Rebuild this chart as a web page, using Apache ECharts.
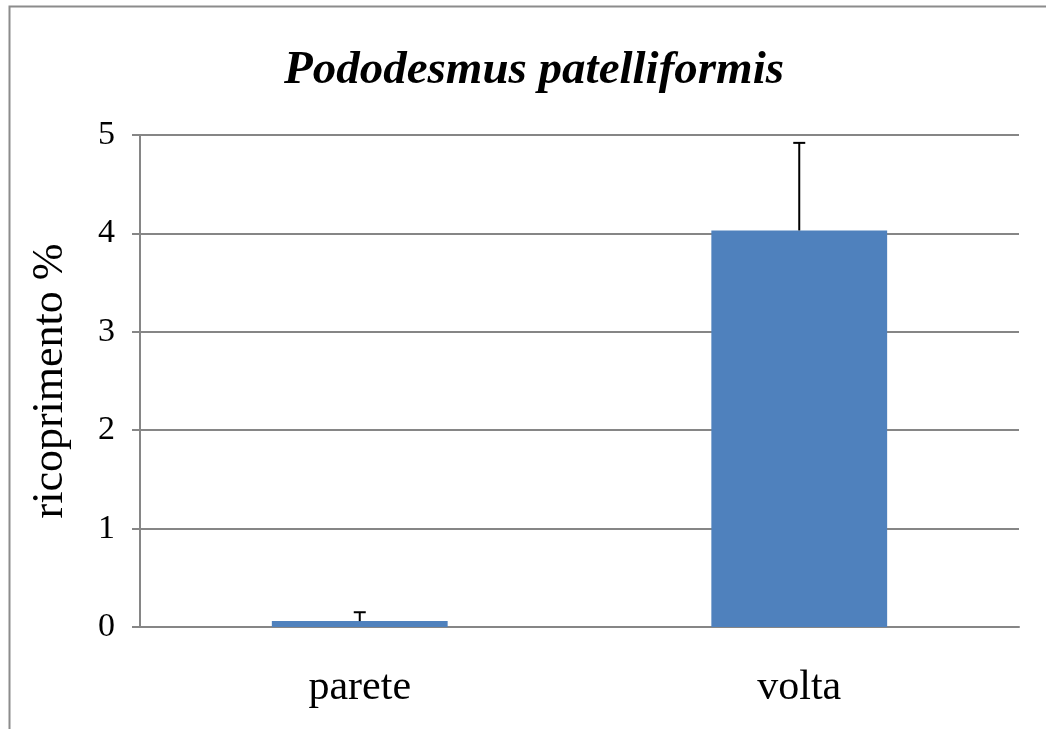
<!DOCTYPE html>
<html>
<head>
<meta charset="utf-8">
<script src="https://cdn.jsdelivr.net/npm/echarts@6/dist/echarts.min.js"></script>
<style>
  html, body { margin: 0; padding: 0; background: #fff; }
  #chart { width: 1046px; height: 729px; }
</style>
</head>
<body>
<div id="chart"></div>
<script>
// dati
var categories = ['parete', 'volta'];
var means = [0.06, 4.03];
var errors = [0.09, 0.89];
var yTicks = [0, 1, 2, 3, 4, 5];

var myChart = echarts.init(document.getElementById('chart'));

var errData = categories.map(function (c, i) {
    return [i, means[i], means[i] + errors[i]];
});

var font = '"Liberation Serif", "Times New Roman", serif';

var option = {
    backgroundColor: '#fff',
    animation: false,
    title: {
        text: 'Pododesmus patelliformis',
        left: 529,
        top: 42,
        textAlign: 'center',
        textStyle: {
            fontFamily: font,
            fontStyle: 'italic',
            fontWeight: 'bold',
            fontSize: 47,
            color: '#000'
        }
    },
    graphic: [{
        type: 'rect',
        shape: { x: 9.5, y: 6.5, width: 1100, height: 800 },
        style: { fill: 'none', stroke: '#8c8c8c', lineWidth: 2 }
    }],
    grid: {
        left: 140,
        right: 27,
        top: 135,
        bottom: 102
    },
    xAxis: {
        type: 'category',
        data: categories,
        axisLine: { lineStyle: { color: '#868686', width: 2 } },
        axisTick: { length: 15, lineStyle: { color: '#868686', width: 2 } },
        axisLabel: {
            margin: 40,
            fontFamily: font,
            fontSize: 42,
            color: '#000'
        }
    },
    yAxis: {
        type: 'value',
        min: yTicks[0],
        max: yTicks[yTicks.length - 1],
        interval: 1,
        name: 'ricoprimento %',
        nameLocation: 'middle',
        nameGap: 68,
        nameTextStyle: {
            fontFamily: font,
            fontSize: 44,
            color: '#000'
        },
        axisLine: { show: true, lineStyle: { color: '#868686', width: 2 } },
        axisTick: { show: true, length: 8, lineStyle: { color: '#868686', width: 2 } },
        splitLine: { lineStyle: { color: '#868686', width: 2 } },
        axisLabel: {
            margin: 25,
            fontFamily: font,
            fontSize: 34,
            color: '#000'
        }
    },
    series: [
        {
            name: 'ricoprimento',
            type: 'bar',
            data: means,
            barWidth: '40%',
            itemStyle: { color: '#4F81BD' },
            z: 2
        },
        {
            name: 'errore',
            type: 'custom',
            data: errData,
            z: 3,
            renderItem: function (params, api) {
                var x = api.value(0);
                var lo = api.coord([x, api.value(1)]);
                var hi = api.coord([x, api.value(2)]);
                var half = 6;
                var st = { stroke: '#000', lineWidth: 2 };
                return {
                    type: 'group',
                    children: [
                        { type: 'line', shape: { x1: lo[0], y1: lo[1], x2: hi[0], y2: hi[1] }, style: st },
                        { type: 'line', shape: { x1: hi[0] - half, y1: hi[1], x2: hi[0] + half, y2: hi[1] }, style: st }
                    ]
                };
            }
        }
    ]
};

myChart.setOption(option);
</script>
</body>
</html>
